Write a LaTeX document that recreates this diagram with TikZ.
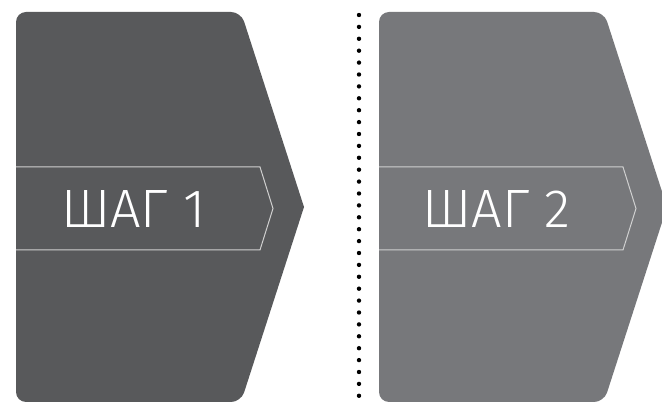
\documentclass[tikz,border=0pt]{standalone}
\usepackage{fontspec}
\usepackage{tikz}
\usetikzlibrary{positioning}
\newfontfamily\stepfont{Fira Sans Light}
\definecolor{darkstep}{HTML}{58595B}
\definecolor{lightstep}{HTML}{77787B}
\definecolor{bandline}{HTML}{D0D0D0}

\begin{document}
\begin{tikzpicture}[
        x=1pt, y=-1pt,
        stepshape/.style={rounded corners=10pt},
        band/.style={draw=bandline, line width=1pt},
        label/.style={text=white, font=\stepfont\fontsize{54}{54}\selectfont, inner sep=0pt},
        divider/.style={line width=4.4pt, line cap=round, dash pattern=on 0pt off 11.9pt}
    ]
    \useasboundingbox (0,0) rectangle (662,403);

    % Step shapes
    \fill[darkstep, stepshape] (304,207) -- (241,12) -- (16,12) -- (16,402) -- (241,402) -- (304,207);
    \fill[lightstep, stepshape] (667,207) -- (604,12) -- (379,12) -- (379,402) -- (604,402) -- (667,207);

    % Inner bands
    \draw[band] (16,167) -- (260,167) -- (273,208.5) -- (260,250) -- (16,250);
    \draw[band] (379,167) -- (623,167) -- (636,208.5) -- (623,250) -- (379,250);

    % Labels
    \node[label] (step1) at (133.5,209) {ШАГ 1};
    \node[label] (step2) at (496.5,209) {ШАГ 2};

    % Divider
    \coordinate (divtop) at (359,15);
    \coordinate (divbot) at (359,400);
    \draw[divider] (divtop) -- (divbot);

\end{tikzpicture}
\end{document}
